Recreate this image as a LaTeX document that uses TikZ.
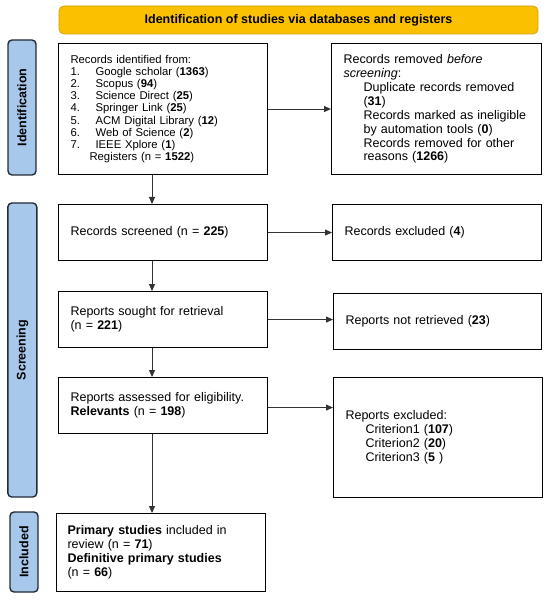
\documentclass[tikz,border=0pt]{standalone}
\usepackage{fontspec}
\setmainfont{Liberation Sans}
\usetikzlibrary{arrows.meta}
\definecolor{bannerfill}{HTML}{FBC000}
\definecolor{bannerdraw}{HTML}{D6A200}
\definecolor{barfill}{HTML}{A7C7EB}
\definecolor{bardraw}{HTML}{222B38}
\definecolor{arrcol}{HTML}{333333}
\begin{document}
\begin{tikzpicture}[x=1pt,y=-1pt,
  box/.style={draw=black, line width=1.1pt, fill=white, anchor=north west, inner xsep=12pt, inner ysep=2pt, align=left, font={\fontsize{12.5}{13.9}\selectfont}},
  bar/.style={draw=bardraw, line width=1.4pt, fill=barfill, rounded corners=4pt, rotate=90, inner sep=0pt, font={\fontsize{12.5}{14}\selectfont\bfseries}},
  arr/.style={-{Triangle[length=7pt,width=6pt]}, line width=0.9pt, draw=arrcol},
]
\useasboundingbox (0,0) rectangle (550,601);
% banner
\node[draw=bannerdraw, line width=0.8pt, fill=bannerfill, rounded corners=5pt, minimum width=479pt, minimum height=28pt, inner sep=0pt, font={\fontsize{12.5}{14}\selectfont\bfseries}] (banner) at (298.5,20) {Identification of studies via databases and registers};
% side bars
\node[bar, minimum width=135pt, minimum height=28pt] (idbar) at (22,107.5) {Identification};
\node[bar, minimum width=294pt, minimum height=29pt] (scbar) at (22.3,350) {Screening};
\node[bar, minimum width=80pt, minimum height=28pt] (inbar) at (24,552) {Included};
% boxes
\node[box, minimum width=209pt, minimum height=131pt, text width=185pt, font={\fontsize{11.3}{12.2}\selectfont}] (b1) at (58,43) {Records identified from:\\
\makebox[25pt][l]{1.}Google scholar (\textbf{1363})\\
\makebox[25pt][l]{2.}Scopus (\textbf{94})\\
\makebox[25pt][l]{3.}Science Direct (\textbf{25})\\
\makebox[25pt][l]{4.}Springer Link (\textbf{25})\\
\makebox[25pt][l]{5.}ACM Digital Library (\textbf{12})\\
\makebox[25pt][l]{6.}Web of Science (\textbf{2})\\
\makebox[25pt][l]{7.}IEEE Xplore (\textbf{1})\\
\hspace*{19pt}Registers (n = \textbf{1522})};
\node[box, minimum width=210pt, minimum height=131pt, text width=186pt] (b2) at (331,43) {Records removed \textit{before}\\
\textit{screening}:\\
\hspace*{20pt}Duplicate records removed\\
\hspace*{20pt}(\textbf{31})\\
\hspace*{20pt}Records marked as ineligible\\
\hspace*{20pt}by automation tools (\textbf{0})\\
\hspace*{20pt}Records removed for other\\
\hspace*{20pt}reasons (\textbf{1266})};
\node[box, minimum width=209pt, minimum height=56pt, text width=185pt, inner xsep=11pt] (b3) at (58,204) {Records screened (n = \textbf{225})};
\node[box, minimum width=209pt, minimum height=56pt, text width=185pt] (r3) at (332,204) {Records excluded (\textbf{4})};
\node[box, minimum width=209pt, minimum height=56pt, text width=185pt, inner xsep=11pt] (b4) at (58,291) {Reports sought for retrieval\\(n = \textbf{221})};
\node[box, minimum width=208pt, minimum height=56pt, text width=184pt] (r4) at (333,293) {Reports not retrieved (\textbf{23})};
\node[box, minimum width=209pt, minimum height=56pt, text width=185pt, inner xsep=11pt] (b5) at (58,377) {Reports assessed for eligibility.\\\textbf{Relevants} (n = \textbf{198})};
\node[box, minimum width=209pt, minimum height=120pt, text width=185pt] (r5) at (333,377) {Reports excluded:\\
\hspace*{20pt}Criterion1 (\textbf{107})\\
\hspace*{20pt}Criterion2 (\textbf{20})\\
\hspace*{20pt}Criterion3 (\textbf{5} )};
\node[box, minimum width=209pt, minimum height=78pt, text width=187pt, inner xsep=11pt] (b6) at (56,513) {\textbf{Primary studies} included in\\
review (n = \textbf{71})\\
\textbf{Definitive primary studies}\\
(n = \textbf{66})};
% connectors
\coordinate (ax) at (152,0);
\draw[arr] (b1.south -| ax) -- (b3.north -| ax);
\draw[arr] (b3.south -| ax) -- (b4.north -| ax);
\draw[arr] (b4.south -| ax) -- (b5.north -| ax);
\draw[arr] (b5.south -| ax) -- (b6.north -| ax);
\draw[arr] (b1.east) -- (b1.east -| b2.west);
\draw[arr] (b3.east) -- (b3.east -| r3.west);
\draw[arr] (b4.east) -- (b4.east -| r4.west);
\draw[arr] ([yshift=-2pt]b5.east) -- ([yshift=-2pt]b5.east -| r5.west);
\end{tikzpicture}
\end{document}
